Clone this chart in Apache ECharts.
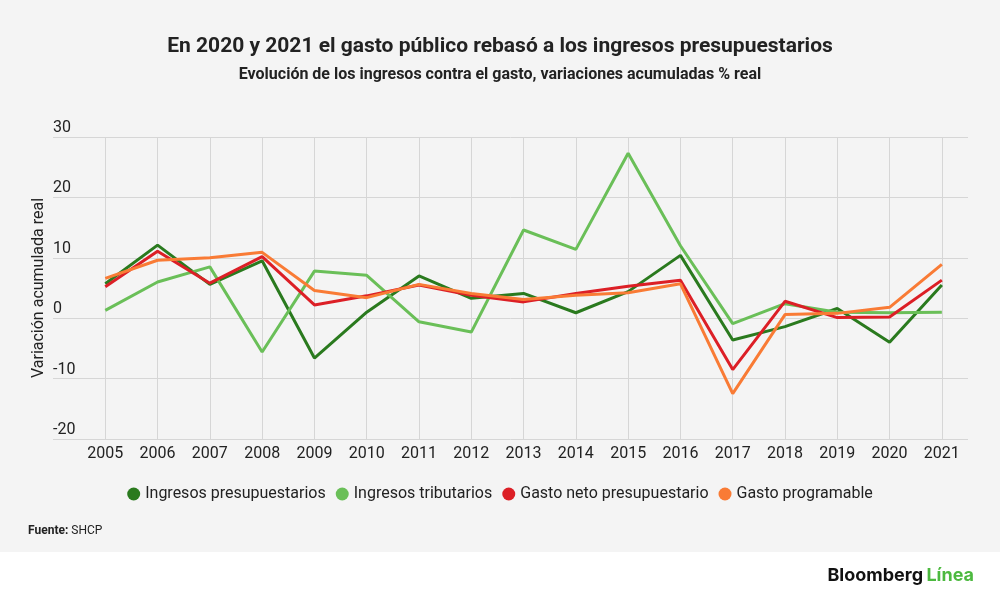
<!DOCTYPE html>
<html>
<head>
<meta charset="utf-8">
<script src="https://cdn.jsdelivr.net/npm/echarts@6/dist/echarts.min.js"></script>
<style>
  html, body { margin: 0; padding: 0; background: #ffffff; }
  #chart { width: 1000px; height: 600px; }
</style>
</head>
<body>
<div id="chart"></div>
<script>
// años
const years = [2005, 2006, 2007, 2008, 2009, 2010, 2011, 2012, 2013,
  2014, 2015, 2016, 2017, 2018, 2019, 2020, 2021];

// variaciones acumuladas % real
const ingresosPresupuestarios = [5.7, 12.1, 5.6, 9.5, -6.6, 1.0, 7.0, 3.3, 4.1,
  0.9, 4.4, 10.4, -3.6, -1.4, 1.6, -4.0, 5.5];
const ingresosTributarios = [1.3, 6.0, 8.5, -5.6, 7.8, 7.1, -0.6, -2.3, 14.6,
  11.4, 27.3, 12.0, -0.9, 2.4, 1.0, 0.9, 1.0];
const gastoNeto = [5.2, 11.1, 5.8, 10.2, 2.2, 3.7, 5.5, 3.8, 2.7,
  4.1, 5.3, 6.3, -8.5, 2.8, 0.1, 0.2, 6.3];
const gastoProgramable = [6.6, 9.6, 10.0, 10.9, 4.6, 3.4, 5.6, 4.1, 3.1,
  3.8, 4.2, 5.7, -12.5, 0.6, 0.8, 1.8, 8.9];

const yTicks = [-20, -10, 0, 10, 20, 30];

const seriesNames = ['Ingresos presupuestarios', 'Ingresos tributarios',
  'Gasto neto presupuestario', 'Gasto programable'];
const seriesColors = ['#2a7a1e', '#6abf58', '#dc1f26', '#f97b35'];
const seriesData = [ingresosPresupuestarios, ingresosTributarios, gastoNeto, gastoProgramable];

const chart = echarts.init(document.getElementById('chart'));

const option = {
  animation: false,
  textStyle: { fontFamily: 'Roboto' },
  graphic: [
    // panel gris
    {
      type: 'rect', z: -10, silent: true,
      shape: { x: 0, y: 0, width: 1000, height: 552 },
      style: { fill: '#f4f4f4' }
    },
    {
      type: 'text', left: 28, top: 525,
      style: {
        text: '{b|Fuente:} SHCP',
        fontFamily: 'Roboto', fontSize: 12, fill: '#222',
        rich: { b: { fontWeight: 'bold', fontSize: 12, fontFamily: 'Roboto', fill: '#222' } }
      }
    },
    {
      type: 'text', right: 26, top: 567,
      style: {
        text: '{a|Bloomberg} {g|Línea}',
        rich: {
          a: { fontFamily: 'Inter', fontWeight: 'bold', fontSize: 18, fill: '#111' },
          g: { fontFamily: 'Inter', fontWeight: 'bold', fontSize: 18, fill: '#4cb93f' }
        }
      }
    }
  ],
  title: [
    {
      text: 'En 2020 y 2021 el gasto público rebasó a los ingresos presupuestarios',
      left: 'center', top: 31,
      textStyle: { fontFamily: 'Roboto', fontWeight: 'bold', fontSize: 21, color: '#222' }
    },
    {
      text: 'Evolución de los ingresos contra el gasto, variaciones acumuladas % real',
      left: 'center', top: 62,
      textStyle: { fontFamily: 'Roboto', fontWeight: 'bold', fontSize: 16, color: '#222' }
    }
  ],
  legend: {
    top: 481, left: 'center',
    icon: 'circle', itemWidth: 13, itemHeight: 13, itemGap: 10,
    textStyle: { fontFamily: 'Roboto', fontSize: 16, color: '#222' },
    data: seriesNames
  },
  grid: { left: 53, right: 32, top: 137, bottom: 161, containLabel: false },
  xAxis: {
    type: 'value',
    min: 2004, max: 2021.5, interval: 1,
    axisLine: { show: false },
    axisTick: { show: false },
    axisLabel: {
      fontFamily: 'Roboto', fontSize: 16, color: '#222', margin: 7,
      formatter: v => (years.indexOf(v) >= 0 ? String(v) : '')
    },
    splitLine: { show: true, showMinLine: false, showMaxLine: false, lineStyle: { color: '#d6d6d6', width: 1 } }
  },
  yAxis: {
    type: 'value',
    min: yTicks[0], max: yTicks[yTicks.length - 1], interval: 10,
    name: 'Variación acumulada real',
    nameLocation: 'middle', nameGap: 6, nameMoveOverlap: false,
    nameTextStyle: { fontFamily: 'Roboto', fontSize: 16, color: '#222' },
    axisLine: { show: false },
    axisTick: { show: false },
    axisLabel: {
      inside: true, verticalAlign: 'bottom', align: 'left', margin: 0,
      padding: [0, 0, 1, 0],
      fontFamily: 'Roboto', fontSize: 16, color: '#222'
    },
    splitLine: { show: true, lineStyle: { color: '#d6d6d6', width: 1 } }
  },
  series: seriesNames.map((name, i) => ({
    name: name,
    type: 'line',
    data: years.map((y, j) => [y, seriesData[i][j]]),
    showSymbol: false,
    symbol: 'circle',
    color: seriesColors[i],
    lineStyle: { width: 3, color: seriesColors[i] },
    z: 2 + i
  }))
};

chart.setOption(option);
</script>
</body>
</html>
